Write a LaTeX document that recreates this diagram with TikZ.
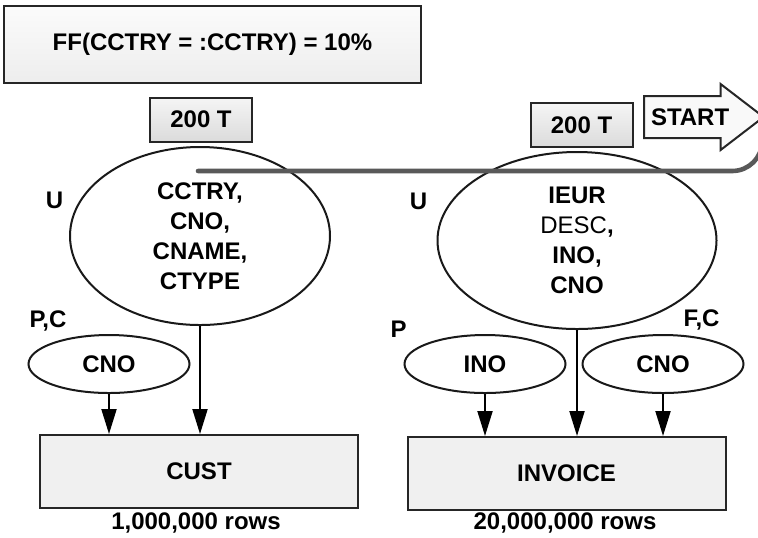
\documentclass[tikz,border=0pt]{standalone}
\usepackage{fontspec}
\setmainfont{Liberation Sans}
\usetikzlibrary{shapes.geometric, shapes.arrows, arrows.meta, positioning}

\begin{document}
\begin{tikzpicture}[
    x=0.5pt, y=-0.5pt,
    every node/.style={font=\fontsize{12}{15}\selectfont\bfseries},
    note/.style={draw=black!85, line width=1pt, top color=gray!3, bottom color=gray!14, minimum width=208.5pt, minimum height=38.5pt},
    rowcount/.style={draw=black!85, line width=1pt, top color=gray!8, bottom color=gray!28, minimum width=51pt, minimum height=22pt, inner sep=0pt},
    tbl/.style={draw=black!85, line width=1pt, fill=gray!12, minimum width=159pt, minimum height=36.5pt},
    cols/.style={ellipse, draw=black!90, line width=1pt, minimum width=130pt, minimum height=89pt, inner sep=0pt, align=center},
    idx/.style={ellipse, draw=black!90, line width=1pt, minimum width=80.5pt, minimum height=29pt, inner sep=0pt},
    flag/.style={inner sep=0pt},
    startarrow/.style={single arrow, draw=black!85, line width=1pt, fill=gray!5, single arrow head extend=6pt, single arrow tip angle=75, minimum height=55pt, text height=8.6pt, text depth=0pt, inner ysep=5.7pt, inner xsep=3pt},
    flow/.style={line width=1pt, -{Triangle[length=12.5pt, width=7.5pt]}},
    trail/.style={line width=2.3pt, gray!70!black, rounded corners=15pt, line cap=round},
]
    \path[use as bounding box, fill=white] (0,0) rectangle (758,537);

    % Filter factor
    \node[note] (ff) at (212.5,44.5) {FF(CCTRY = :CCTRY) = 10\%};

    % Customer side
    \node[rowcount] (custrows) at (201,119.5) {200 T};
    \node[cols] (custcols) at (200,236) {CCTRY,\\CNO,\\CNAME,\\CTYPE};
    \node[flag] at (54.5,200.5) {U};
    \node[flag] at (48,320.5) {P,C};
    \node[idx] (custcno) at (109,364) {CNO};
    \node[tbl] (cust) at (199,471.5) {CUST};
    \node at (196,523) {1,000,000 rows};

    % Invoice side
    \node[rowcount] (invrows) at (581.5,125) {200 T};
    \node[cols, minimum width=139.5pt, minimum height=88.5pt] (invcols) at (577,240.5) {IEUR\\{\mdseries DESC},\\INO,\\CNO};
    \node[flag] at (418.5,201) {U};
    \node[flag] at (398.5,329.5) {P};
    \node[flag] at (701.5,319.5) {F,C};
    \node[idx] (invino) at (485,364) {INO};
    \node[idx] (invcno) at (663,364) {CNO};
    \node[tbl] (invoice) at (566.5,473.5) {INVOICE};
    \node at (565,523) {20,000,000 rows};

    % Access paths
    \draw[flow] (custcno.south) -- (custcno.south |- cust.north);
    \draw[flow] (custcols.south) -- (custcols.south |- cust.north);
    \draw[flow] (invino.south) -- (invino.south |- invoice.north);
    \draw[flow] (invcols.south) -- (invcols.south |- invoice.north);
    \draw[flow] (invcno.south) -- (invcno.south |- invoice.north);

    % Start of the scan
    \node[startarrow, anchor=tail] (start) at (643,117) {START};
    \coordinate (trailend) at (198,171);
    \draw[trail] ([xshift=-1.5pt, yshift=-6pt]start.tip) |- (trailend);
\end{tikzpicture}
\end{document}
